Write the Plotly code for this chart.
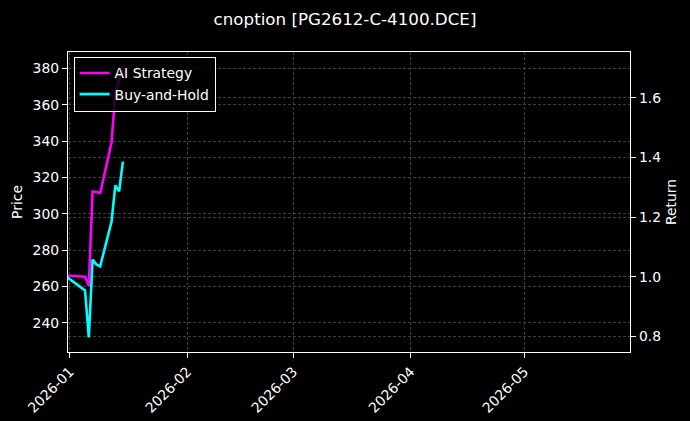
"""
Dark equity-curve chart: AI strategy vs buy-and-hold for one option contract
"""

import plotly.graph_objects as go

# trading days shown on the chart
dates = ["2025-12-31", "2026-01-05", "2026-01-06", "2026-01-07", "2026-01-08",
         "2026-01-09", "2026-01-12", "2026-01-13", "2026-01-14", "2026-01-15"]

# cumulative return (right axis)
ai_strategy = [1.004, 1.0, 0.97, 1.286, 1.284, 1.28, 1.45, 1.614, 1.66, 1.707]
buy_and_hold = [1.001, 0.954, 0.797, 1.058, 1.041, 1.035, 1.185, 1.306, 1.286, 1.386]

# axis limits
price_range = [224, 389]
return_range = [0.748, 1.753]
date_range = ["2025-12-31 12:00", "2026-05-28 22:00"]

FONT = "DejaVu Sans"
GRID = "#3f3f3f"
SIZE = 13.9

fig = go.Figure()
# empty trace so the left (price) axis gets drawn
fig.add_trace(go.Scatter(x=[], y=[], yaxis="y", showlegend=False, hoverinfo="skip"))
fig.add_trace(go.Scatter(x=dates, y=ai_strategy, name="AI Strategy", mode="lines",
                         line=dict(color="#ff00ff", width=2.6), yaxis="y2"))
fig.add_trace(go.Scatter(x=dates, y=buy_and_hold, name="Buy-and-Hold", mode="lines",
                         line=dict(color="#00ffff", width=2.6), yaxis="y2"))

axis_common = dict(
    showline=True, linecolor="white", linewidth=1.2,
    ticks="outside", ticklen=5, tickcolor="white", tickwidth=1,
    tickfont=dict(color="white", size=SIZE, family=FONT),
    showgrid=True, gridcolor=GRID, gridwidth=0.7, griddash="3px,2px",
    zeroline=False,
)

fig.update_layout(
    width=690, height=421,
    margin=dict(l=68, r=60, t=52, b=69, autoexpand=False),
    paper_bgcolor="black", plot_bgcolor="black",
    font=dict(family=FONT, color="white", size=SIZE),
    title=dict(text="cnoption [PG2612-C-4100.DCE]", x=0.5, xref="container",
               y=0.955, yref="container", xanchor="center", yanchor="middle",
               font=dict(size=16.7, color="white", family=FONT)),
    xaxis=dict(range=date_range, type="date", dtick="M1", tick0="2026-01-01",
               tickformat="%Y-%m", tickangle=-45, mirror=True, **axis_common),
    yaxis=dict(range=price_range, dtick=20, title=dict(text="Price", standoff=6,
               font=dict(size=SIZE, color="white", family=FONT)), **axis_common),
    yaxis2=dict(range=return_range, dtick=0.2, tickformat=".1f", overlaying="y",
                side="right", title=dict(text="Return", standoff=6,
                font=dict(size=SIZE, color="white", family=FONT)), **axis_common),
    legend=dict(x=0.01, y=0.985, xanchor="left", yanchor="top",
                bgcolor="rgba(0,0,0,0.8)", bordercolor="white", borderwidth=1,
                font=dict(size=SIZE, color="white", family=FONT),
                tracegroupgap=0),
    showlegend=True,
)

# drop the default 8px body margin so the figure sits at the window corner
fig.write_html("out.html", config={"displayModeBar": False},
               post_script="document.body.style.margin='0';")
